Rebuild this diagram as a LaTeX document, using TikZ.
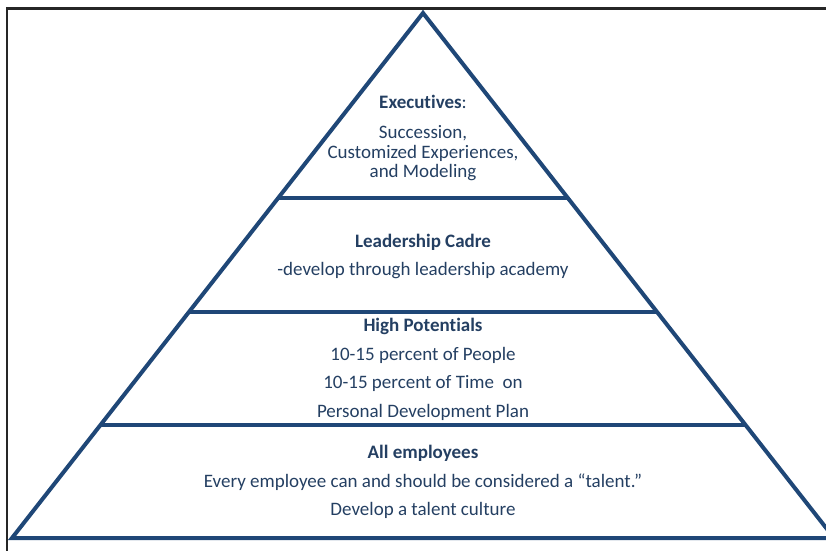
\documentclass[tikz,border=0pt]{standalone}
\usepackage{fontspec}
\setmainfont{Carlito}[Ligatures=CommonOff]
\definecolor{pyrline}{HTML}{1F4777}
\definecolor{pyrtext}{HTML}{243F62}
\begin{document}
\begin{tikzpicture}[x=1pt,y=-1pt,
  layerline/.style={draw=pyrline,line width=4pt,line join=miter},
  frameline/.style={draw=black!85,line width=2.6pt},
  txt/.style={anchor=base,inner sep=0pt,text=pyrtext,font=\fontsize{19}{22}\selectfont},
  head/.style={txt,font=\fontsize{19}{22}\selectfont\bfseries}]
\useasboundingbox (0,0) rectangle (826,550);
% outer frame (top and left edges)
\coordinate (fTL) at (7,8.5);
\coordinate (fTR) at (830,8.5);
\coordinate (fBL) at (7,552);
\draw[frameline] (fTR) -- (fTL) -- (fBL);
% pyramid outline
\coordinate (apex) at (423,13);
\coordinate (bl) at (12,538);
\coordinate (br) at (834,538);
\draw[layerline] (apex) -- (bl) -- (br) -- cycle;
% layer dividers
\coordinate (d1l) at (277.5,198);
\coordinate (d1r) at (568.5,198);
\coordinate (d2l) at (188,312);
\coordinate (d2r) at (658,312);
\coordinate (d3l) at (100.5,424.5);
\coordinate (d3r) at (745.5,424.5);
\draw[layerline] (d1l) -- (d1r);
\draw[layerline] (d2l) -- (d2r);
\draw[layerline] (d3l) -- (d3r);
% executives
\node[head] (exec) at (423,108) {Executives\mdseries:};
\node[txt] (exec1) at (423,138) {Succession,};
\node[txt] (exec2) at (423,158) {Customized Experiences,};
\node[txt] (exec3) at (423,177.5) {and Modeling};
% leadership cadre
\node[head] (lead) at (423,247) {Leadership Cadre};
\node[txt] (lead1) at (423,275) {-develop through leadership academy};
% high potentials
\node[head] (hipo) at (423,331) {High Potentials};
\node[txt] (hipo1) at (423,360) {10-15 percent of People};
\node[txt] (hipo2) at (423,388) {10-15 percent of Time\ \ on};
\node[txt] (hipo3) at (423,417) {Personal Development Plan};
% all employees
\node[head] (all) at (423,458) {All employees};
\node[txt] (all1) at (423,487) {Every employee can and should be considered a “talent.”};
\node[txt] (all2) at (423,515) {Develop a talent culture};
\end{tikzpicture}
\end{document}
